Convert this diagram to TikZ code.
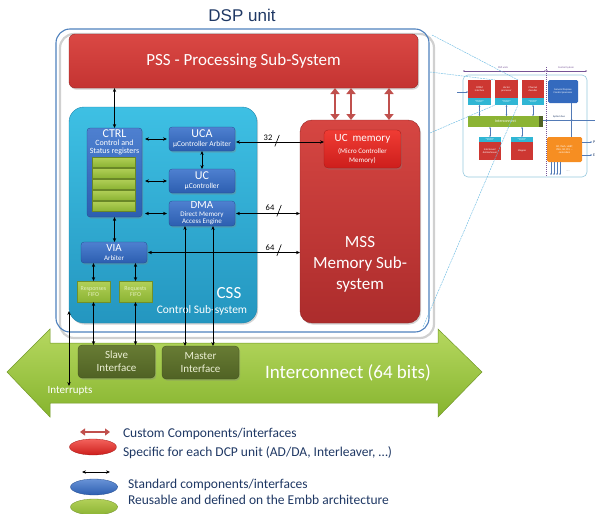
\documentclass[tikz,border=0pt]{standalone}
\usepackage{fontspec}
\setmainfont{Carlito}
\newfontfamily\titlefont{Liberation Sans}
\usetikzlibrary{shadows,arrows.meta,shapes.geometric}

\definecolor{frameblue}{RGB}{79,129,189}
\definecolor{framegray}{RGB}{208,208,208}
\definecolor{titleblue}{RGB}{31,56,100}
\definecolor{psstop}{RGB}{218,72,68}
\definecolor{pssbot}{RGB}{196,52,50}
\definecolor{memtop}{RGB}{214,70,66}
\definecolor{membot}{RGB}{172,44,44}
\definecolor{uctop}{RGB}{240,60,52}
\definecolor{ucbot}{RGB}{205,30,28}
\definecolor{csstop}{RGB}{62,192,228}
\definecolor{cssbot}{RGB}{36,150,192}
\definecolor{blktop}{RGB}{78,128,208}
\definecolor{blkbot}{RGB}{44,94,176}
\definecolor{regtop}{RGB}{178,208,88}
\definecolor{regbot}{RGB}{140,180,52}
\definecolor{fifotext}{RGB}{228,240,190}
\definecolor{iftop}{RGB}{104,124,52}
\definecolor{ifbot}{RGB}{80,98,36}
\definecolor{iftext}{RGB}{236,240,212}
\definecolor{bustop}{RGB}{182,216,96}
\definecolor{busbot}{RGB}{134,180,46}
\definecolor{custom}{RGB}{192,80,77}
\definecolor{zoomline}{RGB}{110,188,226}
\definecolor{thumbframe}{RGB}{150,200,222}
\definecolor{thumbpurple}{RGB}{118,84,150}
\definecolor{ifcyan}{RGB}{48,182,212}
\definecolor{tred}{RGB}{205,55,50}
\definecolor{tblue}{RGB}{52,106,190}
\definecolor{torange}{RGB}{246,142,34}
\definecolor{tline}{RGB}{82,122,182}

\newcommand{\fs}[2]{\fontsize{#1}{#2}\selectfont}

\begin{document}
\begin{tikzpicture}[x=1pt,y=-1pt,
  every node/.style={inner sep=0pt, outer sep=0pt},
  softshadow/.style={drop shadow={opacity=0.35, shadow xshift=1.2pt, shadow yshift=-1.6pt}},
  redblock/.style={top color=memtop, bottom color=membot, draw=membot!85!black,
    line width=0.4pt, softshadow},
  bluebox/.style={rounded corners=3pt, top color=blktop, bottom color=blkbot,
    draw=blkbot!80!black, line width=0.3pt, text=white, align=center, softshadow},
  regbar/.style={top color=regtop, bottom color=regbot, draw=regbot!75!black,
    line width=0.3pt, minimum width=43pt, minimum height=10pt},
  fifo/.style={top color=regtop, bottom color=regbot, draw=regbot!80!black, line width=0.3pt,
    text=fifotext, align=center, font=\fs{6}{6.2}, minimum width=33pt, minimum height=21pt},
  iface/.style={rounded corners=4pt, top color=iftop, bottom color=ifbot,
    draw=ifbot!80!black, line width=0.3pt, text=iftext, align=center,
    font=\fs{11}{13}, minimum width=77pt, minimum height=33pt, softshadow},
  arr/.style={{Stealth[length=4pt,width=3.4pt]}-{Stealth[length=4pt,width=3.4pt]}, line width=0.6pt},
  fatarr/.style={{Triangle[length=6pt,width=9pt]}-{Triangle[length=6pt,width=9pt]},
    line width=2.6pt, draw=custom},
  legendtxt/.style={text=titleblue, font=\fs{13.5}{16}, anchor=west},
  tinytxt/.style={font=\fs{2.6}{3}, text=white, align=center},
  tredbox/.style={fill=tred, minimum width=23pt, minimum height=18pt, tinytxt},
  tcyanbox/.style={fill=ifcyan, minimum width=23pt, text=white, font=\fs{1.6}{1.8}, align=center},
  tarr/.style={{Stealth[length=1.6pt,width=1.8pt]}-{Stealth[length=1.6pt,width=1.8pt]}, line width=0.45pt, draw=tline},
  tone/.style={-{Stealth[length=1.6pt,width=1.8pt]}, line width=0.45pt, draw=tline},
  zoom/.style={draw=zoomline, line width=0.45pt, dash pattern=on 2pt off 0.8pt},
]
\useasboundingbox (0,0) rectangle (595,514);

% ---- DSP unit frame -------------------------------------------------
\node[draw=framegray, line width=2.2pt, rounded corners=14pt,
  minimum width=374pt, minimum height=304pt] (dspshade) at (247,186) {};
\node[draw=frameblue, line width=1.1pt, rounded corners=14pt,
  minimum width=373pt, minimum height=303pt] (dsp) at (242.5,180.5) {};
\node[font=\titlefont\fs{17}{20}, text=titleblue] (title) at (242,15) {DSP unit};

% ---- Processing sub-system ------------------------------------------
\node[redblock, top color=psstop, bottom color=pssbot, rounded corners=6pt,
  minimum width=349pt, minimum height=54pt, text=white, font=\fs{17}{20}]
  (pss) at (243.5,61) {PSS - Processing Sub-System};

% ---- Memory sub-system ----------------------------------------------
\node[redblock, rounded corners=12pt, minimum width=120pt, minimum height=203pt]
  (mss) at (360,221.5) {};
\node[text=white, font=\fs{17}{21}, align=center] (msstext) at (360,264)
  {MSS\\Memory Sub-\\system};
\node[rounded corners=4pt, top color=uctop, bottom color=ucbot, draw=ucbot!80!black,
  line width=0.3pt, minimum width=77pt, minimum height=38pt, text=white, align=center,
  font=\fs{7}{9}, softshadow] (ucmem) at (362.5,149)
  {{\fs{11}{11}UC\ \ memory}\\[2.5pt](Micro Controller\\Memory)};

% ---- Control sub-system ---------------------------------------------
\node[rounded corners=15pt, top color=csstop, bottom color=cssbot, draw=cssbot!90!black,
  line width=0.4pt, minimum width=188pt, minimum height=216pt, softshadow]
  (css) at (163,215) {};
\node[text=white, font=\fs{17}{20}] (csslbl) at (229,293) {CSS};
\node[text=white, font=\fs{11.5}{13}] (csssub) at (202,310) {Control Sub-system};

\node[bluebox, minimum width=55pt, minimum height=89pt] (ctrl) at (114.5,172.5) {};
\node[text=white, align=center, anchor=north, font=\fs{8}{8}] (ctrltext) at (114.5,129.5)
  {{\fs{12}{12}CTRL}\\[0.5pt]Control and\\Status registers};
\foreach \i/\yy in {1/162,2/173,3/184,4/195,5/206}
  \node[regbar] (reg\i) at (113.5,\yy) {};

\node[bluebox, minimum width=66pt, minimum height=24pt, font=\fs{7.5}{9}] (uca) at (202,139)
  {{\fs{12}{11}UCA}\\µController Arbiter};
\node[bluebox, minimum width=66pt, minimum height=24pt, font=\fs{7.5}{9}] (uc) at (202,181)
  {{\fs{12}{11}UC}\\µController};
\node[bluebox, minimum width=66pt, minimum height=25pt, font=\fs{7}{7.5}] (dma) at (202,213.5)
  {{\fs{11}{9}DMA}\\Direct Memory\\Access Engine};
\node[bluebox, minimum width=66pt, minimum height=21pt, font=\fs{7}{8.5}] (via) at (114,252.5)
  {{\fs{11}{10}VIA}\\Arbiter};
\node[fifo] (resp) at (93.5,291.5) {Responses\\FIFO};
\node[fifo] (req) at (135.5,291.5) {Requests\\FIFO};

% ---- Interconnect bus -----------------------------------------------
\path[top color=bustop, bottom color=busbot, draw=busbot!85!black, line width=0.5pt]
  (7,372) -- (50,329) -- (50,343) -- (438,343) -- (438,329) -- (482,372)
  -- (438,417) -- (438,403) -- (50,403) -- (50,417) -- cycle;
\node[text=white, font=\fs{19}{22}] (bus) at (348,373) {Interconnect (64 bits)};
\node[iface] (slave) at (116.5,361.5) {Slave\\Interface};
\node[iface] (master) at (200.5,362.5) {Master\\Interface};

% ---- Connectors -----------------------------------------------------
\draw[arr] (ctrl.north |- pss.south) -- (ctrl.north);
\coordinate (rA) at ([xshift=91.5pt]pss.south);
\coordinate (rB) at ([xshift=107.5pt]pss.south);
\coordinate (rC) at ([xshift=145.5pt]pss.south);
\foreach \c in {rA,rB,rC}
  \draw[fatarr] (\c) -- (\c |- mss.north);

\draw[arr, shorten <=3pt, shorten >=2pt] (ctrl.east |- uca.west) -- (uca.west);
\draw[arr, shorten <=3pt, shorten >=2pt] (ctrl.east |- uc.west) -- (uc.west);
\draw[arr, shorten <=3pt, shorten >=2pt] (ctrl.east |- dma.west) -- (dma.west);
\draw[arr] (uca.south) -- (uc.north);
\draw[arr] (ctrl.south) -- (ctrl.south |- via.north);

\coordinate (u32) at ([yshift=-3pt]uca.east);
\draw[arr, shorten <=1pt] (u32) -- (u32 -| ucmem.west);
\draw[arr, shorten <=1pt] (dma.east) -- (dma.east -| mss.west);
\draw[arr, shorten <=1pt] (via.east) -- (via.east -| mss.west);

\node[font=\fs{8.5}{9}] (w32) at (268,138) {32};
\node[font=\fs{8.5}{9}] (w64a) at (270,208) {64};
\node[font=\fs{8.5}{9}] (w64b) at (270,247.5) {64};
\foreach \w in {w32,w64a,w64b}
  \draw[line width=0.6pt] ([xshift=2.5pt,yshift=-8.5pt]\w.east) -- ([xshift=7pt,yshift=3pt]\w.east);

\draw[arr] (resp.north |- via.south) -- (resp.north);
\draw[arr] (req.north |- via.south) -- (req.north);
\draw[arr] (resp.south) -- (resp.south |- slave.north);
\draw[arr] (req.south) -- (req.south |- slave.north);
\coordinate (dm1) at ([xshift=-17pt]dma.south);
\coordinate (dm2) at ([xshift=11pt]dma.south);
\draw[arr] (dm1) -- (dm1 |- master.north);
\draw[arr] (dm2) -- (dm2 |- master.north);

\coordinate (irqtop) at (69,311);
\coordinate (irqbot) at (69,386);
\draw[arr] (irqtop) -- (irqbot);
\node[text=white, font=\fs{11}{12}] (irqlbl) at (70,391) {Interrupts};

% ---- Legend ---------------------------------------------------------
\coordinate (lgA1) at (80,432);
\coordinate (lgA2) at (110,432);
\draw[custom, line width=2.2pt, {Triangle[length=5pt,width=7pt]}-{Triangle[length=5pt,width=7pt]}] (lgA1) -- (lgA2);
\node[ellipse, minimum width=47pt, minimum height=16pt, top color=uctop!80!white,
  bottom color=ucbot, draw=ucbot!80!black, line width=0.3pt] (lgred) at (93,447) {};
\node[legendtxt] (lgt1) at (123,434) {Custom Components/interfaces};
\node[legendtxt] (lgt2) at (123,453) {Specific for each DCP unit (AD/DA, Interleaver, …)};

\coordinate (lgB1) at (82,472);
\coordinate (lgB2) at (110,472);
\draw[arr] (lgB1) -- (lgB2);
\node[ellipse, minimum width=47pt, minimum height=16pt, top color=blktop!85!white,
  bottom color=blkbot, draw=blkbot!80!black, line width=0.3pt] (lgblue) at (94,487) {};
\node[ellipse, minimum width=47pt, minimum height=16pt, top color=regtop,
  bottom color=regbot, draw=regbot!80!black, line width=0.3pt] (lggreen) at (94,507) {};
\node[legendtxt] (lgt3) at (128,485) {Standard components/interfaces};
\node[legendtxt] (lgt4) at (128,500) {Reusable and defined on the Embb architecture};

% ---- Small system overview ------------------------------------------
\node[draw=thumbframe, line width=0.6pt, rounded corners=5pt,
  minimum width=124pt, minimum height=102pt] (thumb) at (525,126) {};
\coordinate (dimL) at (463,71);
\coordinate (dimM) at (546,71);
\coordinate (dimR) at (587,71);
\draw[thumbpurple, line width=0.4pt, {Stealth[length=1.6pt,width=1.8pt]}-{Stealth[length=1.6pt,width=1.8pt]}] (dimL) -- (dimM);
\draw[thumbpurple, line width=0.4pt, {Stealth[length=1.6pt,width=1.8pt]}-{Stealth[length=1.6pt,width=1.8pt]}] (dimM) -- (dimR);
\node[tinytxt, text=thumbpurple] (tdsp) at (503,68) {DSP units};
\node[tinytxt, text=thumbpurple] (tcs) at (566,68) {Control System};
\coordinate (divT) at (546,67);
\coordinate (divB) at (546,177);
\draw[thumbpurple, line width=0.35pt, dash pattern=on 1pt off 1pt] (divT) -- (divB);

\node[tredbox] (ofdm) at (479.5,89) {OFDM\\interface};
\node[tcyanbox, minimum height=7pt] (ofdmif) at (479.5,101.5) {Interconnect\\interface};
\node[tredbox] (vp) at (506.5,89) {Vector\\processor};
\node[tcyanbox, minimum height=7pt] (vpif) at (506.5,101.5) {Interconnect\\interface};
\node[tredbox, minimum width=22pt] (chd) at (533,89) {Channel\\decoder};
\node[tcyanbox, minimum width=22pt, minimum height=7pt] (chdif) at (533,101.5) {Interconnect\\interface};

\node[fill=regbot, minimum width=75pt, minimum height=11pt, text=white,
  font=\fs{4}{4.5}] (tic) at (505.5,121.5) {Interconnect};
\node[fill=ifbot, minimum width=4pt, minimum height=11pt] (tictab) at (541,121.5) {};

\node[tcyanbox, minimum width=22pt, minimum height=5pt] (ilvif) at (490,139.5) {Interconnect\\interface};
\node[tredbox, minimum width=22pt] (ilv) at (490,151) {Interleaver/\\deinterleaver};
\node[tcyanbox, minimum width=22pt, minimum height=5pt] (mapif) at (522,139.5) {Interconnect\\interface};
\node[tredbox, minimum width=22pt] (map) at (522,151) {Mapper};

\node[fill=tblue, rounded corners=1.5pt, minimum width=30pt, minimum height=23pt,
  tinytxt] (gp) at (563,91.5) {General Purpose\\Control processor};
\node[fill=torange, rounded corners=1.5pt, minimum width=35pt, minimum height=25pt,
  tinytxt] (ctl) at (564.5,149.5) {I2C, flash, UART,\\JTAG, SD, PCI, ...\\controllers};

\coordinate (ofdmin) at (457,92);
\draw[tone] (ofdmin) -- (ofdmin -| ofdm.west);
\foreach \b in {ofdmif,vpif,chdif}
  \draw[tarr] (\b.south) -- (\b.south |- tic.north);
\foreach \b in {ilvif,mapif}
  \draw[tarr] (\b.north |- tic.south) -- (\b.north);

\coordinate (sbR) at (595,120);
\draw[tline, line width=0.8pt] (tictab.east |- sbR) -- (sbR);
\node[font=\fs{2.6}{3}, text=titleblue] (tsb) at (559,116.5) {System bus};
\coordinate (gpx) at ([xshift=8.5pt]gp.south);
\draw[tline, line width=0.6pt] (gpx) -- (gpx |- ctl.north);
\fill[tline] (gpx |- sbR) circle (1pt);

\coordinate (pOut) at (592,142);
\coordinate (eOut) at (592,155);
\draw[tone] (ctl.east |- pOut) -- (pOut);
\draw[tone] (ctl.east |- eOut) -- (eOut);
\node[font=\fs{4}{4}, text=titleblue, anchor=west] (tP) at (593,142) {P};
\node[font=\fs{4}{4}, text=titleblue, anchor=west] (tE) at (593,155) {E};
\foreach \dx in {-13.5,-10.5,-7.5,-4.5}
  \draw[tone] ([xshift=\dx pt]ctl.south) -- ++(0,13);
\node[font=\fs{3}{3}, text=gray] (tdots) at (568,171) {.....};

% zoom lines from the DSP unit to the vector processor block
\coordinate (zA) at (432,35);
\coordinate (zB) at (430,72);
\coordinate (zC) at (430,133);
\coordinate (zD) at (423,327);
\draw[zoom] (zA) -- (vp.north east);
\draw[zoom] (zB) -- (vp.north west);
\draw[zoom] (zC) -- (vpif.south west);
\draw[zoom] (zD) -- (vpif.south east);
\end{tikzpicture}
\end{document}
